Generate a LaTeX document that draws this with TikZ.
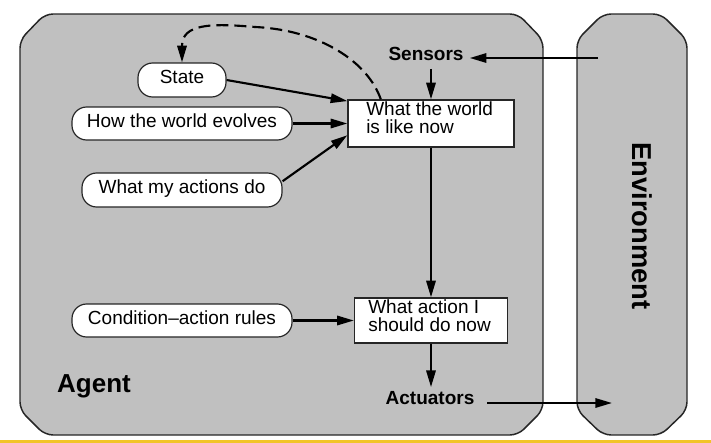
\documentclass[tikz,border=0pt]{standalone}
\usepackage{fontspec}
\setmainfont{Liberation Sans}
\usetikzlibrary{arrows.meta,calc}
\definecolor{agentgray}{RGB}{192,192,192}
\definecolor{baryellow}{RGB}{242,196,40}
\begin{document}
\begin{tikzpicture}[x=0.75pt,y=-0.75pt,
  arr/.style={line width=1.6pt,-{Triangle[length=12.5pt,width=7pt]}},
  dasharr/.style={arr,dash pattern=on 9pt off 4.5pt},
  pill/.style={draw=black!85,fill=white,line width=0.9pt,rounded corners=11pt,inner sep=1pt,
    text height=10.5pt,text depth=5.25pt,font=\fontsize{14.25}{14}\selectfont},
  infobox/.style={draw=black!85,fill=white,line width=1pt,inner sep=0pt},
  txt/.style={font=\fontsize{14.25}{13.8}\selectfont,align=left,inner sep=0pt},
  boldlabel/.style={font=\fontsize{14.25}{16}\selectfont\bfseries,inner ysep=3pt,inner xsep=4.5pt},
  outerbox/.style={draw=black!85,fill=agentgray,line width=1.1pt,rounded corners=6pt}]
\useasboundingbox (0,0) rectangle (711,443);
\fill[baryellow] (0,440) rectangle (711,443);
% agent and environment frames
\draw[outerbox] (20,40) -- (45,14) -- (518,14) -- (543,40) -- (543,410) -- (518,435) -- (45,435) -- (20,410) -- cycle;
\draw[outerbox] (577,40) -- (603,14) -- (661,14) -- (687,40) -- (687,410) -- (661,435) -- (603,435) -- (577,410) -- cycle;
% labels
\node[font=\fontsize{19.5}{20}\selectfont\bfseries] (agent) at (94,386) {Agent};
\node[font=\fontsize{20.5}{22}\selectfont\bfseries,rotate=-90] (env) at (642,226) {Environment};
\node[boldlabel] (sensors) at (426,54) {Sensors};
\node[boldlabel] (actuators) at (430,398) {Actuators};
% boxes
\node[infobox,minimum width=124.5pt,minimum height=35.25pt] (world) at (431,123.5) {};
\node[txt,anchor=west] (worldtxt) at (366,118) {What the world\\is like now};
\node[infobox,minimum width=114.75pt,minimum height=33.75pt] (action) at (431,320.5) {};
\node[txt,anchor=west] (actiontxt) at (368,315.5) {What action I\\should do now};
% pills
\node[pill,minimum width=66pt,minimum height=25.5pt] (state) at (182,80) {State};
\node[pill,minimum width=165pt,minimum height=24.75pt] (evolves) at (182,123.5) {How the world evolves};
\node[pill,minimum width=150pt,minimum height=25.5pt] (actions) at (182,190) {What my actions do};
\node[pill,minimum width=165pt,minimum height=24.75pt] (rules) at (182,320.5) {Condition--action rules};
% coordinates
\coordinate (envin) at (598,58);
\coordinate (envout) at (612,403);
\coordinate (dashstart) at ($(world.north west)!0.2!(world.north east)$);
\coordinate (dashtop) at (255,27);
% connectors
\draw[arr] (envin) -- (envin -| sensors.east);
\draw[arr,shorten <=3pt] (world.north |- sensors.south) -- (world.north);
\draw[arr] (world.south) -- (action.north);
\draw[arr] (action.south) -- (action.south |- actuators.north);
\draw[arr,shorten <=5pt] (actuators.east |- envout) -- (envout);
\draw[arr] (state.east) -- (world.165);
\draw[arr] (evolves.east) -- (world.west);
\draw[arr] (actions.5) -- (world.188);
\draw[arr] (rules.east) -- (action.west);
\draw[dasharr] (dashstart) .. controls (368,62) and (320,30) .. (dashtop) .. controls (210,23) and (182,24) .. (state.north);
\end{tikzpicture}
\end{document}
